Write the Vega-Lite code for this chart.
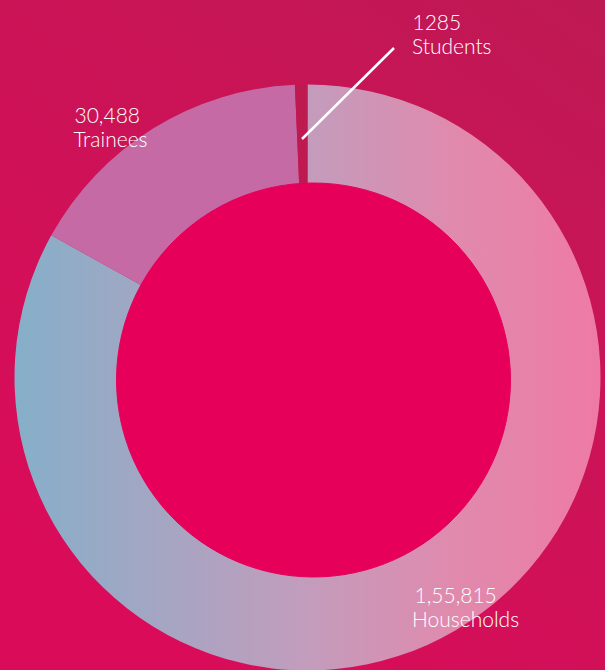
{
  "$schema": "https://vega.github.io/schema/vega-lite/v6.json",
  "width": 605,
  "height": 670,
  "padding": 0,
  "autosize": {"type": "none"},
  "background": "#C8155A",
  "config": {"view": {"stroke": null}},
  "data": {
    "values": [
      {"category": "Households", "value": 155815, "label": "1,55,815"},
      {"category": "Trainees", "value": 30488, "label": "30,488"},
      {"category": "Students", "value": 1285, "label": "1285"}
    ]
  },
  "transform": [
    {"stack": "value", "groupby": [], "sort": [{"field": "value", "order": "descending"}], "as": ["v0", "v1"]}
  ],
  "layer": [
    {
      "transform": [{"filter": "datum.category === 'Households'"}],
      "mark": {"type": "rect",
        "color": {"gradient": "linear", "x1": 1, "y1": 0, "x2": 0.35, "y2": 1,
          "stops": [{"offset": 0, "color": "#BE1953"}, {"offset": 1, "color": "#DA0C5A"}]}},
      "encoding": {}
    },
    {
      "transform": [{"filter": "datum.category === 'Households'"}],
      "mark": {
        "type": "arc", "outerRadius": 293, "innerRadius": 186, "xOffset": 5, "yOffset": 42.5,
        "color": {"gradient": "linear", "x1": 0, "y1": 0, "x2": 1, "y2": 0,
          "stops": [
            {"offset": 0, "color": "#86AFC9"},
            {"offset": 0.5, "color": "#C39CBC"},
            {"offset": 0.75, "color": "#E08AAD"},
            {"offset": 1, "color": "#EE7AA5"}
          ]}
      },
      "encoding": {
        "theta": {"field": "v1", "type": "quantitative", "stack": null, "scale": {"zero": true, "nice": false}},
        "theta2": {"field": "v0"}
      }
    },
    {
      "transform": [{"filter": "datum.category === 'Trainees'"}],
      "mark": {"type": "arc", "outerRadius": 293, "innerRadius": 186, "xOffset": 5, "yOffset": 42.5, "color": "#C56AA5"},
      "encoding": {
        "theta": {"field": "v1", "type": "quantitative", "stack": null},
        "theta2": {"field": "v0"}
      }
    },
    {
      "transform": [{"filter": "datum.category === 'Students'"}],
      "mark": {"type": "arc", "outerRadius": 293, "innerRadius": 186, "xOffset": 5, "yOffset": 42.5, "color": "#BE1A50"},
      "encoding": {
        "theta": {"field": "v1", "type": "quantitative", "stack": null},
        "theta2": {"field": "v0"}
      }
    },
    {
      "mark": {"type": "arc", "outerRadius": 197, "innerRadius": 0, "color": "#E6005A", "stroke": "#E6005A", "strokeWidth": 1, "xOffset": 11, "yOffset": 45},
      "encoding": {
        "theta": {"field": "v1", "type": "quantitative", "stack": null},
        "theta2": {"field": "v0"}
      }
    },
    {
      "transform": [{"filter": "datum.category === 'Students'"}],
      "mark": {"type": "rule", "color": "white", "strokeWidth": 2.5},
      "encoding": {"x": {"value": 302}, "y": {"value": 139}, "x2": {"value": 394}, "y2": {"value": 48}}
    },
    {
      "transform": [{"filter": "datum.category === 'Students'"}],
      "mark": {"type": "text", "radius": 293, "xOffset": 5, "yOffset": 42.5, "dx": 117.6, "dy": -54.8, "align": "left", "baseline": "alphabetic", "font": "Lato", "fontWeight": 300, "fontSize": 21, "color": "white"},
      "encoding": {"theta": {"field": "v0", "type": "quantitative", "stack": null}, "text": {"field": "label"}}
    },
    {
      "transform": [{"filter": "datum.category === 'Students'"}],
      "mark": {"type": "text", "radius": 293, "xOffset": 5, "yOffset": 42.5, "dx": 117.1, "dy": -30.8, "align": "left", "baseline": "alphabetic", "font": "Lato", "fontWeight": 300, "fontSize": 21, "color": "white"},
      "encoding": {"theta": {"field": "v0", "type": "quantitative", "stack": null}, "text": {"field": "category"}}
    },
    {
      "transform": [{"filter": "datum.category === 'Trainees'"}],
      "mark": {"type": "text", "radius": 293, "xOffset": 5, "yOffset": 42.5, "dx": 23.2, "dy": -111.9, "align": "left", "baseline": "alphabetic", "font": "Lato", "fontWeight": 300, "fontSize": 21, "color": "white"},
      "encoding": {"theta": {"field": "v0", "type": "quantitative", "stack": null}, "text": {"field": "label"}}
    },
    {
      "transform": [{"filter": "datum.category === 'Trainees'"}],
      "mark": {"type": "text", "radius": 293, "xOffset": 5, "yOffset": 42.5, "dx": 22.2, "dy": -88.7, "align": "left", "baseline": "alphabetic", "font": "Lato", "fontWeight": 300, "fontSize": 21, "color": "white"},
      "encoding": {"theta": {"field": "v0", "type": "quantitative", "stack": null}, "text": {"field": "category"}}
    },
    {
      "transform": [{"filter": "datum.category === 'Households'"}],
      "mark": {"type": "text", "radius": 293, "xOffset": 5, "yOffset": 42.5, "dx": 107, "dy": 518.8, "align": "left", "baseline": "alphabetic", "font": "Lato", "fontWeight": 300, "fontSize": 21, "color": "white"},
      "encoding": {"theta": {"field": "v0", "type": "quantitative", "stack": null}, "text": {"field": "label"}}
    },
    {
      "transform": [{"filter": "datum.category === 'Households'"}],
      "mark": {"type": "text", "radius": 293, "xOffset": 5, "yOffset": 42.5, "dx": 104.5, "dy": 542.2, "align": "left", "baseline": "alphabetic", "font": "Lato", "fontWeight": 300, "fontSize": 21, "color": "white"},
      "encoding": {"theta": {"field": "v0", "type": "quantitative", "stack": null}, "text": {"field": "category"}}
    }
  ]
}
